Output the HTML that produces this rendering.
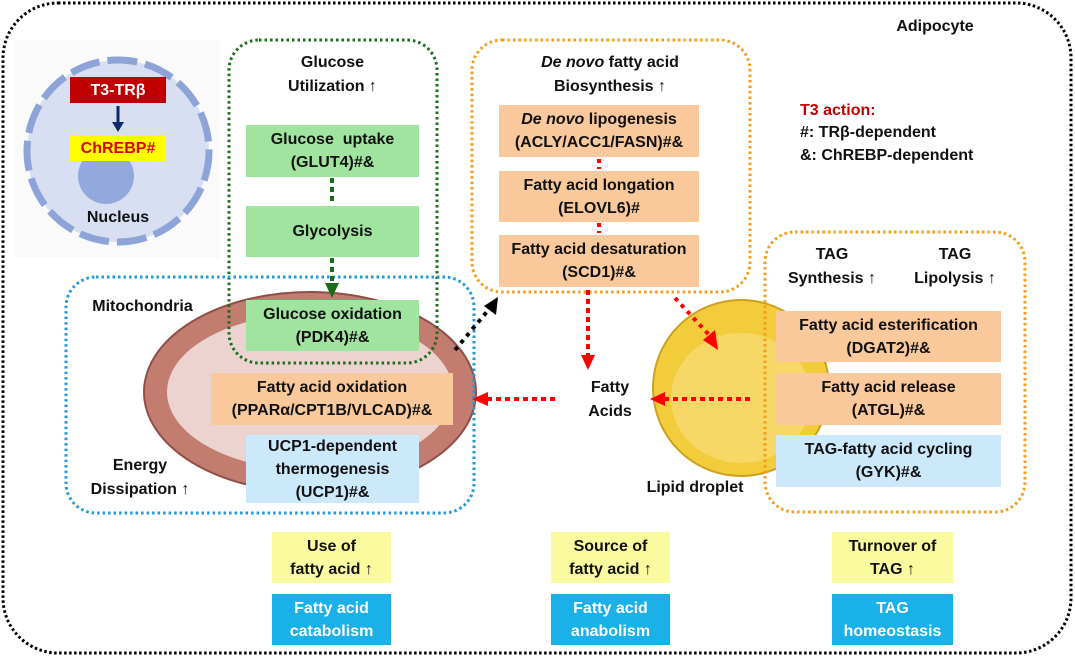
<!DOCTYPE html>
<html><head><meta charset="utf-8"><style>
body{margin:0;background:#fff;}
#c{position:relative;width:1075px;height:657px;overflow:hidden;font-family:"Liberation Sans",sans-serif;font-weight:bold;font-size:16px;color:#111;}
.b{position:absolute;display:flex;align-items:center;justify-content:center;text-align:center;line-height:23px;}
.t{position:absolute;text-align:center;line-height:24px;}
</style></head><body><div id="c">
<svg width="1075" height="657" style="position:absolute;left:0;top:0">
<rect x="3" y="3" width="1068" height="650" rx="55" fill="none" stroke="#000" stroke-width="3" stroke-dasharray="2.5 2.5"/>
<rect x="15" y="40" width="205" height="218" fill="#fafafa"/>
<!-- nucleus -->
<circle cx="118" cy="151" r="91" fill="#d9dff3" stroke="#8ea4d8" stroke-width="7" stroke-dasharray="30 8"/>
<circle cx="106" cy="176" r="28" fill="#93a8dc"/>
<!-- mitochondria -->
<ellipse cx="310" cy="392" rx="166" ry="100" fill="#c27c70" stroke="#8f5048" stroke-width="2"/>
<ellipse cx="310" cy="392" rx="143" ry="78" fill="#edd3cf"/>
<!-- lipid droplet -->
<ellipse cx="741" cy="388" rx="88" ry="88" fill="#f3cc3c" stroke="#caa21e" stroke-width="2"/>
<ellipse cx="741" cy="398" rx="70" ry="65" fill="#f7d866"/>
<rect x="229" y="40" width="208" height="323" rx="30" fill="none" stroke="#1a6e1a" stroke-width="3" stroke-dasharray="2.5 3"/>
<rect x="66" y="277" width="408" height="236" rx="30" fill="none" stroke="#1e9ad6" stroke-width="3" stroke-dasharray="2.5 3"/>
<rect x="472" y="40" width="278" height="252" rx="30" fill="none" stroke="#f59c1a" stroke-width="3" stroke-dasharray="2.5 3"/>
<rect x="765" y="232" width="260" height="280" rx="30" fill="none" stroke="#f59c1a" stroke-width="3" stroke-dasharray="2.5 3"/>
<line x1="118" y1="106" x2="118" y2="124" stroke="#0a2a6a" stroke-width="3"/><path d="M112,122L124,122L118,132z" fill="#0a2a6a"/>
<line x1="332" y1="178" x2="332" y2="204" stroke="#1a6e1a" stroke-width="4" stroke-dasharray="5 4"/>
<line x1="332" y1="258" x2="332" y2="284" stroke="#1a6e1a" stroke-width="4" stroke-dasharray="5 4"/><path d="M325,283L339,283L332,298z" fill="#1a6e1a"/>
<line x1="599" y1="159" x2="599" y2="169" stroke="#f00" stroke-width="4" stroke-dasharray="4 4"/>
<line x1="599" y1="223" x2="599" y2="233" stroke="#f00" stroke-width="4" stroke-dasharray="4 4"/>
<line x1="588" y1="290" x2="588" y2="355" stroke="#f00" stroke-width="4" stroke-dasharray="5 4"/><path d="M581,355L595,355L588,370z" fill="#f00"/>
<line x1="555" y1="399" x2="488" y2="399" stroke="#f00" stroke-width="4" stroke-dasharray="5 4"/><path d="M488,392L488,406L472,399z" fill="#f00"/>
<line x1="750" y1="399" x2="665" y2="399" stroke="#f00" stroke-width="4" stroke-dasharray="5 4"/><path d="M665,392L665,406L650,399z" fill="#f00"/>
<line x1="675" y1="298" x2="710" y2="336" stroke="#f00" stroke-width="4" stroke-dasharray="4 5"/><path d="M703,340L715,330L718,350z" fill="#f00"/>
<line x1="455" y1="350" x2="490" y2="308" stroke="#000" stroke-width="4" stroke-dasharray="4 5"/><path d="M484,306L496,315L498,297z" fill="#000"/>
</svg>
<div class="t" style="left:895px;top:15px;width:80px">Adipocyte</div>
<div class="b" style="left:70px;top:77px;width:96px;height:26px;background:#c00000;color:#fff">T3-TRβ</div>
<div class="b" style="left:70px;top:135px;width:96px;height:26px;background:#ffff00;color:#e00000">ChREBP#</div>
<div class="t" style="left:68px;top:206px;width:100px">Nucleus</div>
<div class="t" style="left:250px;top:51px;width:165px">Glucose<br>Utilization ↑</div>
<div class="b" style="left:246px;top:125px;width:173px;height:52px;background:#a0e4a0">Glucose&nbsp; uptake<br>(GLUT4)#&amp;</div>
<div class="b" style="left:246px;top:206px;width:173px;height:51px;background:#a0e4a0">Glycolysis</div>
<div class="b" style="left:246px;top:300px;width:173px;height:51px;background:#a0e4a0">Glucose oxidation<br>(PDK4)#&amp;</div>
<div class="t" style="left:80px;top:295px;width:125px">Mitochondria</div>
<div class="b" style="left:211px;top:373px;width:242px;height:52px;background:#f9c89b">Fatty acid oxidation<br>(PPARα/CPT1B/VLCAD)#&amp;</div>
<div class="b" style="left:246px;top:435px;width:173px;height:68px;background:#cce8fb">UCP1-dependent<br>thermogenesis<br>(UCP1)#&amp;</div>
<div class="t" style="left:80px;top:454px;width:120px">Energy<br>Dissipation ↑</div>
<div class="t" style="left:490px;top:51px;width:240px"><i>De novo</i> fatty acid<br>Biosynthesis ↑</div>
<div class="b" style="left:499px;top:105px;width:200px;height:52px;background:#f9c89b"><span><i>De novo</i> lipogenesis<br>(ACLY/ACC1/FASN)#&amp;</span></div>
<div class="b" style="left:499px;top:171px;width:200px;height:51px;background:#f9c89b">Fatty acid longation<br>(ELOVL6)#</div>
<div class="b" style="left:499px;top:235px;width:200px;height:52px;background:#f9c89b">Fatty acid desaturation<br>(SCD1)#&amp;</div>
<div class="t" style="left:570px;top:376px;width:80px">Fatty<br>Acids</div>
<div class="t" style="left:800px;top:99px;width:200px;text-align:left;color:#c00000">T3 action:</div>
<div class="t" style="left:800px;top:121px;width:220px;text-align:left">#: TRβ-dependent</div>
<div class="t" style="left:800px;top:144px;width:220px;text-align:left">&amp;: ChREBP-dependent</div>
<div class="t" style="left:777px;top:243px;width:110px">TAG<br>Synthesis ↑</div>
<div class="t" style="left:900px;top:243px;width:110px">TAG<br>Lipolysis ↑</div>
<div class="b" style="left:776px;top:311px;width:225px;height:51px;background:#f9c89b">Fatty acid esterification<br>(DGAT2)#&amp;</div>
<div class="b" style="left:776px;top:373px;width:225px;height:52px;background:#f9c89b">Fatty acid release<br>(ATGL)#&amp;</div>
<div class="b" style="left:776px;top:435px;width:225px;height:52px;background:#cce8fb">TAG-fatty acid cycling<br>(GYK)#&amp;</div>
<div class="t" style="left:635px;top:476px;width:120px">Lipid droplet</div>
<div class="b" style="left:272px;top:532px;width:119px;height:51px;background:#fafa9f">Use of<br>fatty acid ↑</div>
<div class="b" style="left:272px;top:594px;width:119px;height:51px;background:#1ab0e8;color:#fff">Fatty acid<br>catabolism</div>
<div class="b" style="left:551px;top:532px;width:119px;height:51px;background:#fafa9f">Source of<br>fatty acid ↑</div>
<div class="b" style="left:551px;top:594px;width:119px;height:51px;background:#1ab0e8;color:#fff">Fatty acid<br>anabolism</div>
<div class="b" style="left:832px;top:532px;width:121px;height:51px;background:#fafa9f">Turnover of<br>TAG ↑</div>
<div class="b" style="left:832px;top:594px;width:121px;height:51px;background:#1ab0e8;color:#fff">TAG<br>homeostasis</div>
</div></body></html>
